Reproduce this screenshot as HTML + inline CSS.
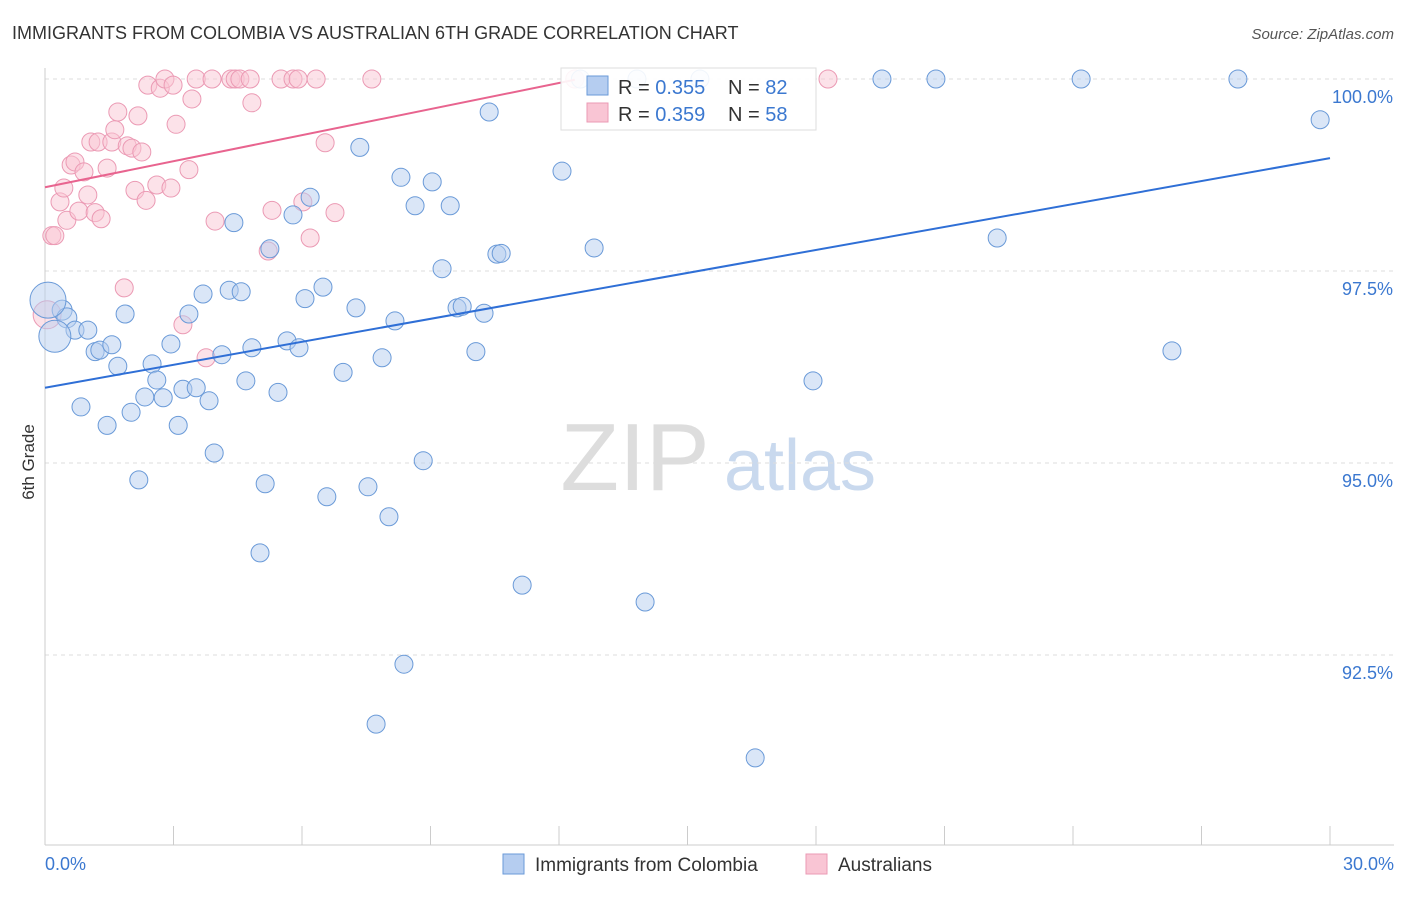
<!DOCTYPE html>
<html><head><meta charset="utf-8"><style>
body{margin:0;background:#fff;font-family:"Liberation Sans",sans-serif;}
svg text{font-family:"Liberation Sans",sans-serif;}
</style></head><body>
<svg id="c" width="1406" height="892" xmlns="http://www.w3.org/2000/svg">
<text x="12" y="39" font-size="18" fill="#333">IMMIGRANTS FROM COLOMBIA VS AUSTRALIAN 6TH GRADE CORRELATION CHART</text>
<text x="1394" y="39" font-size="15" fill="#555" font-style="italic" text-anchor="end">Source: ZipAtlas.com</text>
<text x="34" y="462" font-size="17" fill="#333" text-anchor="middle" transform="rotate(-90 34 462)">6th Grade</text>
<g><text x="635" y="490" font-size="96" fill="#ddd" font-family="Liberation Serif" text-anchor="middle">ZIP</text><text x="800" y="490" font-size="72" fill="#c9d9ee" text-anchor="middle">atlas</text></g>
<g id="grid"></g><g id="marks"></g>
<g>
<rect x="561" y="68" width="255" height="62" fill="#fff" fill-opacity="0.9" stroke="#ddd"/>
<rect x="587" y="76" width="21" height="19" fill="#b5cdf0" stroke="#6a9ad8"/>
<rect x="587" y="103" width="21" height="19" fill="#f9c5d4" stroke="#eb9ab4"/>
<text x="618" y="94" font-size="20" fill="#333">R = <tspan fill="#3b78d0">0.355</tspan></text>
<text x="728" y="94" font-size="20" fill="#333">N = <tspan fill="#3b78d0">82</tspan></text>
<text x="618" y="121" font-size="20" fill="#333">R = <tspan fill="#3b78d0">0.359</tspan></text>
<text x="728" y="121" font-size="20" fill="#333">N = <tspan fill="#3b78d0">58</tspan></text>
</g>
<g>
<rect x="503" y="854" width="21" height="20" fill="#b5cdf0" stroke="#6a9ad8"/>
<text x="535" y="871" font-size="19" fill="#333">Immigrants from Colombia</text>
<rect x="806" y="854" width="21" height="20" fill="#f9c5d4" stroke="#eb9ab4"/>
<text x="838" y="871" font-size="19" fill="#333">Australians</text>
</g>
</svg>
<script>
const yTicks=[100,97.5,95,92.5];
const yTickLabels=["100.0%","97.5%","95.0%","92.5%"];
const xTickCount=[0,3,6,9,12,15,18,21,24,27,30];
const blueX=[.40,.51,.70,1.00,.23,.07,1.17,1.28,1.56,1.70,.84,1.45,1.87,2.50,2.61,2.01,2.33,2.76,2.19,2.94,3.11,3.22,3.36,3.53,3.69,3.83,3.95,4.13,4.30,4.41,4.58,4.69,4.83,5.02,5.14,5.25,5.44,5.65,5.79,5.93,6.07,6.19,6.49,6.58,6.96,7.26,7.35,7.54,7.87,8.03,8.17,8.31,8.38,7.73,8.64,8.83,9.04,9.27,9.46,9.62,9.74,10.06,10.25,10.37,10.55,10.65,11.14,12.07,12.82,14.01,16.58,17.93,19.54,20.80,22.23,24.19,26.31,27.85,29.77,13.82,15.29,12.5];
const blueY=[96.99,96.89,96.73,96.73,96.65,97.12,96.45,96.47,96.54,96.26,95.73,95.49,96.94,96.29,96.08,95.66,95.86,95.85,94.78,96.55,95.49,95.96,96.94,95.98,97.20,95.81,95.13,96.41,97.25,98.13,97.23,96.07,96.50,93.83,94.73,97.79,95.92,96.59,98.23,96.50,97.14,98.46,97.29,94.56,96.18,97.02,99.11,94.69,96.37,94.30,96.85,98.72,92.38,91.60,98.35,95.03,98.66,97.53,98.35,97.02,97.04,96.45,96.95,99.57,97.72,97.73,93.41,98.80,97.80,93.19,91.16,96.07,100,100,97.93,100,96.46,100,99.47,100,100,100];
const blueR=[10,10,9,9,16,18,9,9,9,9,9,9,9,9,9,9,9,9,9,9,9,9,9,9,9,9,9,9,9,9,9,9,9,9,9,9,9,9,9,9,9,9,9,9,9,9,9,9,9,9,9,9,9,9,9,9,9,9,9,9,9,9,9,9,9,9,9,9,9,9,9,9,9,9,9,9,9,9,9,9,9,9];
const pinkX=[.16,.23,.35,.44,.51,.61,.70,.79,.91,1.00,1.17,1.07,1.31,1.24,1.45,1.56,1.63,1.70,1.85,1.92,2.03,2.10,2.17,2.26,2.36,2.40,2.61,2.69,2.80,2.94,2.99,3.06,3.22,3.36,3.43,3.53,3.76,3.90,3.97,4.34,4.44,4.55,4.79,4.83,5.21,5.30,5.51,5.79,5.91,6.02,6.19,6.33,6.54,6.77,7.63,12.37,18.28,.05];
const pinkY=[97.96,97.96,98.40,98.58,98.16,98.88,98.92,98.28,98.79,98.49,98.26,99.18,98.18,99.18,98.84,99.18,99.34,99.57,97.28,99.13,99.10,98.55,99.52,99.05,98.42,99.92,98.62,99.88,100,98.58,99.92,99.41,96.80,98.82,99.74,100,96.37,100,98.15,100,100,100,100,99.69,97.76,98.29,100,100,100,98.40,97.93,100,99.17,98.26,100,100,100,96.93];
const blueTrend=[[0,95.98],[30,98.97]];
const pinkTrend=[[0,98.59],[12.37,99.99]];
const L=45,R=1330,T=79,B=845;
const sx=v=>L+(v/30)*(R-L);
const sy=v=>T+(100-v)*76.8;
const NS="http://www.w3.org/2000/svg";
function mk(t,a,p){const e=document.createElementNS(NS,t);for(const k in a)e.setAttribute(k,a[k]);p.appendChild(e);return e;}
const g=document.getElementById('grid'),m=document.getElementById('marks');
yTicks.forEach((v,i)=>{
 const ln=mk('line',{x1:L,x2:1394,y1:sy(v),y2:sy(v),stroke:'#ddd','stroke-dasharray':'4,4'},g);
 
 
 const t=mk('text',{x:1393,y:sy(v)+24,'font-size':18,fill:'#3b78d0','text-anchor':'end'},g);t.textContent=yTickLabels[i];
 
 
});
const ax=mk('line',{x1:L,x2:L,y1:68,y2:B,stroke:'#ccc'},g);


const bx=mk('line',{x1:L,x2:1394,y1:B,y2:B,stroke:'#ccc'},g);


xTickCount.forEach(v=>{const t=mk('line',{x1:sx(v),x2:sx(v),y1:826,y2:B,stroke:'#ccc'},g);
 
 });
const x0=mk('text',{x:45,y:870,'font-size':18,fill:'#3b78d0'},g);x0.textContent='0.0%';


const x1=mk('text',{x:1394,y:870,'font-size':18,fill:'#3b78d0','text-anchor':'end'},g);x1.textContent='30.0%';


pinkX.forEach((x,i)=>{const c=mk('circle',{cx:sx(x),cy:sy(pinkY[i]),r:x<0.1?14:9,fill:'#f9c5d4','fill-opacity':0.5,stroke:'#eb9ab4','stroke-width':1},m);
 
 });
blueX.forEach((x,i)=>{const c=mk('circle',{cx:sx(x),cy:sy(blueY[i]),r:blueR[i],fill:'#b5cdf0','fill-opacity':0.5,stroke:'#6a9ad8','stroke-width':1},m);
 
 });
const bl=mk('line',{x1:sx(blueTrend[0][0]),y1:sy(blueTrend[0][1]),x2:sx(blueTrend[1][0]),y2:sy(blueTrend[1][1]),stroke:'#2f6fd6','stroke-width':2},m);


const pl=mk('line',{x1:sx(pinkTrend[0][0]),y1:sy(pinkTrend[0][1]),x2:sx(pinkTrend[1][0]),y2:sy(pinkTrend[1][1]),stroke:'#e8648f','stroke-width':2},m);


</script>
</body></html>
